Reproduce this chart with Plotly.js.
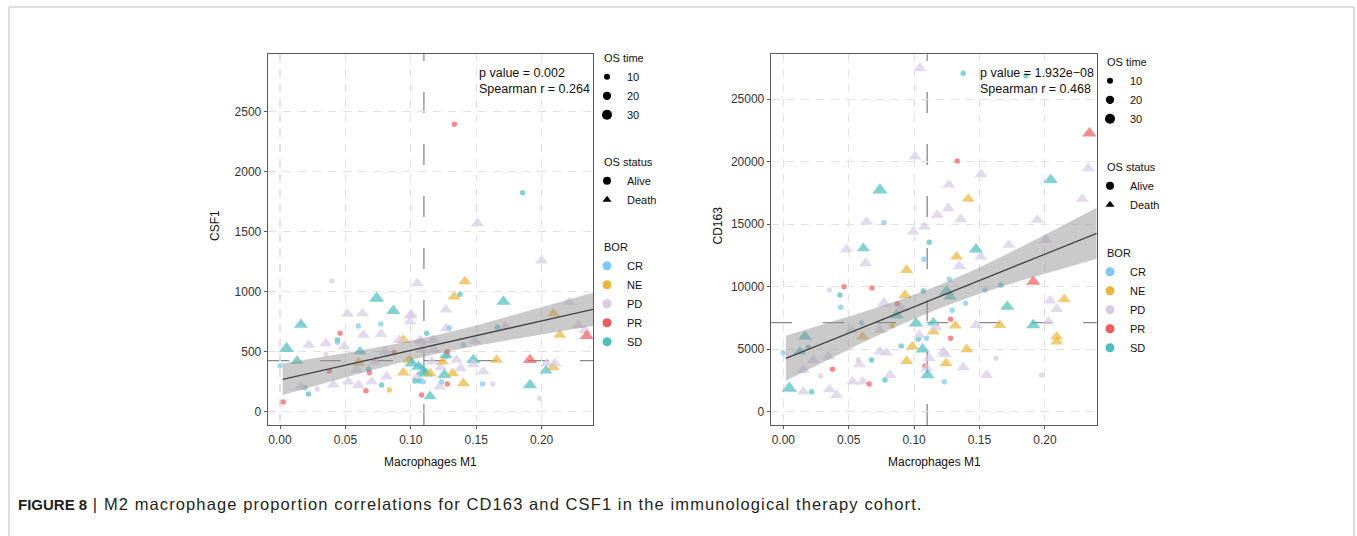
<!DOCTYPE html>
<html>
<head>
<meta charset="utf-8">
<script src="https://cdn.plot.ly/plotly-3.0.1.min.js"></script>
<style>html,body{margin:0;padding:0;background:#fff;}#chart{width:1357px;height:536px;}</style>
</head>
<body>
<div id="chart"></div>
<script>
// ---------- DATA ----------
// Left panel: CSF1 vs Macrophages M1
const csfX = [0.000,0.0025,0.005,0.013,0.016,0.022,0.019,0.0217,0.0285,0.016,0.035,0.035,0.0395,0.0377,0.0438,0.044,0.0459,0.0408,0.049,0.0517,
  0.063,0.0599,0.0612,0.0601,0.0522,0.060,0.0657,0.0678,0.0683,0.0637,0.0739,0.077,0.0772,0.0866,0.0777,0.0815,0.0836,0.0872,0.0943,0.0943,
  0.0986,0.0994,0.0994,0.0912,0.1007,0.105,0.105,0.107,0.1075,0.1032,0.1065,0.1083,0.1096,0.1058,0.1096,0.1115,0.1121,0.1147,0.1147,0.1159,
  0.1172,0.1177,0.1223,0.1228,0.1236,0.1244,0.1256,0.1274,0.1269,0.1269,0.1269,0.1279,0.1279,0.1294,0.132,0.133,0.135,0.1376,0.1381,0.1402,
  0.1414,0.1402,0.1478,0.1478,0.149,0.1547,0.1555,0.1626,0.1656,0.1662,0.1708,0.172,0.1911,0.1911,0.1983,0.200,0.2039,0.2034,0.209,0.209,
  0.2102,0.214,0.221,0.228,0.2332,0.2345,0.1333,0.1855,0.1509,0.0586,0.0726,0.070,0.108,0.080,0.1007,0.1085];
const csfY = [383,80,525,422,725,556,200,147,189,205,569,481,1090,339,597,578,653,225,542,814,
  819,714,500,408,250,222,175,353,325,639,944,731,647,840,222,292,181,494,597,325,
  430,800,750,597,403,292,1069,597,380,256,256,139,250,375,333,319,653,128,319,417,
  597,514,208,370,250,417,306,458,472,850,694,500,231,700,319,958,431,978,361,236,
  1085,556,431,395,590,231,333,231,431,703,917,708,431,222,111,1258,403,342,819,369,
  403,639,912,722,680,631,2395,1825,1570,347,417,250,583,500,806,514];
const csfBor = ['CR','PR','SD','SD','SD','PD','SD','SD','PD','PD','PD','PD','PD','PR','SD','CR','PR','PD','PD','PD',
  'PD','CR','SD','NE','PD','PD','PR','SD','PR','PD','SD','CR','PD','SD','SD','PD','NE','PR','NE','NE',
  'NE','PD','PD','PD','SD','PD','PD','PD','CR','SD','SD','PR','CR','SD','SD','SD','SD','SD','NE','PD',
  'PD','PD','PD','PD','CR','NE','SD','CR','SD','PD','PD','PR','PR','CR','NE','NE','PD','SD','PD','NE',
  'NE','CR','SD','PD','PD','CR','PD','PD','NE','SD','SD','PD','PR','SD','PD','PD','PD','SD','NE','NE',
  'PD','NE','PD','PD','PD','PR','PR','SD','PD','PD','PD','PD','PD','PD','PD','PD'];
const csfStatus = ['Alive','Alive','Death','Death','Death','Death','Alive','Alive','Alive','Death','Death','Alive','Alive','Alive','Alive','Alive','Alive','Death','Death','Death',
  'Death','Alive','Death','Death','Death','Death','Alive','Alive','Alive','Death','Death','Alive','Death','Death','Alive','Death','Alive','Alive','Death','Death',
  'Death','Death','Death','Death','Death','Death','Death','Death','Alive','Alive','Alive','Alive','Alive','Death','Death','Death','Alive','Death','Death','Death',
  'Death','Death','Death','Death','Alive','Death','Death','Alive','Death','Death','Death','Alive','Alive','Alive','Death','Death','Death','Alive','Death','Death',
  'Death','Alive','Death','Death','Death','Alive','Death','Alive','Death','Alive','Death','Death','Death','Death','Alive','Death','Death','Death','Death','Death',
  'Death','Death','Death','Death','Death','Death','Alive','Alive','Death','Death','Death','Death','Death','Death','Death','Death'];
const csfOsTime = [8,8,35,25,30,25,8,8,8,25,25,8,8,8,8,8,8,25,25,25,
  25,8,25,25,25,25,8,8,8,25,35,8,25,30,8,25,8,8,25,25,
  25,25,25,25,30,25,25,25,8,8,8,8,8,30,30,30,8,25,25,25,
  25,25,25,25,8,25,30,8,25,25,25,8,8,8,25,25,25,8,25,25,
  25,8,30,25,25,8,25,8,25,8,30,25,30,30,8,25,25,25,25,25,
  25,25,25,25,25,30,8,8,25,25,25,25,25,25,25,25];

// Right panel: CD163 vs Macrophages M1
const cdX = [0.1376,0.1855,0.1045,0.234,0.1007,0.133,0.1511,0.1267,0.0739,0.1414,0.2044,0.2332,0.2286,0.1261,0.1177,0.1356,0.0637,0.077,0.0994,0.1078,
  0.1942,0.2008,0.0484,0.0612,0.1116,0.1473,0.1725,0.1325,0.1511,0.1075,0.000,0.0046,0.0127,0.0166,0.0191,0.0217,0.0153,0.0153,0.023,0.0285,
  0.0352,0.0344,0.0352,0.0377,0.0408,0.0433,0.0438,0.0464,0.0522,0.053,0.0573,0.0581,0.0599,0.0607,0.0607,0.063,0.0657,0.0678,0.0675,0.0739,
  0.0739,0.077,0.0777,0.079,0.0815,0.0833,0.0872,0.0866,0.0905,0.0902,0.093,0.0943,0.0943,0.0986,0.1014,0.1032,0.104,0.1065,0.107,0.1083,
  0.1096,0.1103,0.1096,0.1116,0.1147,0.1147,0.1165,0.1223,0.1236,0.1231,0.1244,0.1249,0.1269,0.1274,0.1279,0.1279,0.1292,0.1315,0.1346,0.1376,
  0.1394,0.1402,0.1473,0.1542,0.1555,0.1626,0.1656,0.1664,0.1713,0.1911,0.1911,0.1975,0.2026,0.2039,0.209,0.209,0.209,0.2148];
const cdY = [27070,26880,27470,22270,20400,20060,18990,18140,17730,17020,18540,19470,17020,16270,15740,15390,15200,15120,14400,14800,
  15340,13740,12990,13070,13550,12990,13340,12400,12400,12190,4720,1870,4800,6000,5150,1600,1600,3330,4130,2880,
  9730,4400,1790,3390,1330,9330,8350,10000,6530,2400,4130,3790,7120,6000,2400,11870,2210,9890,4130,6530,
  4800,8670,2530,4720,2930,6880,8610,7730,8270,5250,9330,11330,4050,5200,7070,5810,6130,4990,9650,3650,
  3470,2930,5870,4270,6400,7120,6720,4800,4610,2400,3870,9600,10590,9200,7390,5870,8110,6880,11650,3550,
  8670,4990,6930,9730,2930,4270,6930,10130,8400,10400,6930,2930,7200,8880,8210,6000,5600,8990];
const cdBor = ['SD','SD','PD','PR','PD','PR','PD','PD','SD','NE','SD','PD','PD','PD','PD','PD','PD','CR','PD','PD',
  'PD','PD','PD','SD','SD','SD','PD','NE','PD','CR','CR','SD','SD','SD','SD','SD','PD','PD','PD','PD',
  'PD','PD','PD','PR','PD','SD','CR','PR','PD','PD','PD','PD','CR','NE','PD','PD','PR','PR','SD','PD',
  'PD','PD','SD','PD','PD','NE','PR','SD','PD','SD','NE','NE','NE','NE','SD','SD','PD','SD','SD','PR',
  'PD','SD','CR','PD','NE','SD','PD','PD','PD','CR','NE','SD','CR','SD','PR','PR','CR','NE','PD','PD',
  'CR','NE','PD','CR','PD','PD','NE','SD','SD','PR','SD','PD','PD','PD','PD','NE','NE','NE'];
const cdStatus = ['Alive','Alive','Death','Death','Death','Alive','Death','Death','Death','Death','Death','Death','Death','Death','Death','Death','Death','Alive','Death','Death',
  'Death','Death','Death','Death','Alive','Death','Death','Death','Death','Alive','Alive','Death','Death','Death','Alive','Alive','Death','Death','Death','Alive',
  'Alive','Death','Death','Alive','Death','Alive','Alive','Alive','Death','Death','Alive','Death','Alive','Death','Death','Death','Alive','Alive','Alive','Death',
  'Death','Death','Alive','Death','Death','Alive','Alive','Death','Death','Alive','Death','Death','Death','Death','Death','Alive','Death','Death','Alive','Alive',
  'Death','Death','Alive','Death','Death','Death','Death','Death','Death','Alive','Death','Death','Alive','Death','Alive','Alive','Alive','Death','Death','Death',
  'Alive','Death','Death','Alive','Death','Alive','Death','Alive','Death','Death','Death','Alive','Death','Death','Death','Death','Death','Death'];
const cdOsTime = [8,8,25,30,25,8,25,25,35,25,30,25,25,25,25,25,25,8,25,25,
  25,25,25,25,8,30,25,25,25,8,8,35,25,30,8,8,25,25,25,8,
  8,25,25,8,25,8,8,8,25,25,8,25,8,25,25,25,8,8,8,25,
  25,30,8,25,25,8,8,30,25,8,25,25,25,25,30,8,25,30,8,8,
  25,30,8,25,25,25,25,25,25,8,25,35,8,25,8,8,8,25,25,25,
  8,25,25,8,25,8,25,8,30,30,30,8,25,25,25,25,25,25];

// Regression fit (line + 95% band)
const csfFitX   = [0.002,0.03,0.06,0.09,0.12,0.15,0.18,0.21,0.2393];
const csfFit    = [270,339,412,486,560,634,707,781,853];
const csfFitLo  = [138,227,317,404,482,549,607,661,714];
const csfFitHi  = [402,451,507,568,638,719,807,901,992];
const cdFitX    = [0.002,0.03,0.06,0.09,0.12,0.15,0.18,0.21,0.2396];
const cdFit     = [4267,5445,6708,7971,9233,10496,11759,13021,14267];
const cdFitLo   = [2467,3945,5488,6971,8303,9446,10439,11341,12227];
const cdFitHi   = [6067,6945,7928,8971,10163,11546,13079,14701,16307];

// Medians (cross-hair lines)
const csfMedianX = 0.110, csfMedianY = 425;
const cdMedianX = 0.110, cdMedianY = 7120;

const borLevels = ['CR','NE','PD','PR','SD'];
const statusLevels = ['Alive','Death'];
const osTimeBreaks = [10,20,30];
const csfStats = ['p value = 0.002','Spearman r = 0.264'];
const cdStats = ['p value = 1.932e\u221208','Spearman r = 0.468'];

// ---------- STYLE ----------
const borColor = {CR:'#7ec9ec', NE:'#ebb63c', PD:'#d9cae6', PR:'#ef5b5f', SD:'#4dbfbf'};
const statusSymbol = {Alive:'circle', Death:'triangle-up'};
const sizeOf = os => 1.73*Math.sqrt(os)+0.54;
const FONT = 'Liberation Sans, Arial, Helvetica, sans-serif';

function pointTrace(xs, ys, bor, st, os, xa, ya){
  return {
    type:'scatter', mode:'markers', x:xs, y:ys, xaxis:xa, yaxis:ya, showlegend:false, hoverinfo:'skip',
    marker:{
      color: bor.map(b=>borColor[b]),
      symbol: st.map(s=>statusSymbol[s]),
      size: os.map((o,i)=> sizeOf(o)*(st[i]==='Death'?1.25:1)),
      line:{width:0}
    }
  };
}
function bandTraces(fx, lo, hi, fit, xa, ya){
  return [
    {type:'scatter', mode:'lines', x:fx, y:lo, xaxis:xa, yaxis:ya, line:{width:0, color:'rgba(0,0,0,0)'}, showlegend:false, hoverinfo:'skip'},
    {type:'scatter', mode:'lines', x:fx, y:hi, xaxis:xa, yaxis:ya, fill:'tonexty', fillcolor:'rgba(145,145,145,0.48)', line:{width:0, color:'rgba(0,0,0,0)'}, showlegend:false, hoverinfo:'skip'},
    {type:'scatter', mode:'lines', x:fx, y:fit, xaxis:xa, yaxis:ya, line:{width:1.3, color:'#444'}, showlegend:false, hoverinfo:'skip'}
  ];
}
function legendTraces(xa, ya, lgTime, lgStatus, lgBor){
  const t = [];
  osTimeBreaks.forEach(v=>t.push({type:'scatter', mode:'markers', x:[null], y:[null], xaxis:xa, yaxis:ya, name:String(v), legend:lgTime,
    marker:{color:'#000', symbol:'circle', size:sizeOf(v)}, hoverinfo:'skip'}));
  statusLevels.forEach(v=>t.push({type:'scatter', mode:'markers', x:[null], y:[null], xaxis:xa, yaxis:ya, name:v, legend:lgStatus,
    marker:{color:'#000', symbol:statusSymbol[v], size:8}, hoverinfo:'skip'}));
  borLevels.forEach(v=>t.push({type:'scatter', mode:'markers', x:[null], y:[null], xaxis:xa, yaxis:ya, name:v, legend:lgBor,
    marker:{color:borColor[v], symbol:'circle', size:9}, hoverinfo:'skip'}));
  return t;
}

const data = [
  pointTrace(csfX, csfY, csfBor, csfStatus, csfOsTime, 'x', 'y'),
  ...bandTraces(csfFitX, csfFitLo, csfFitHi, csfFit, 'x', 'y'),
  pointTrace(cdX, cdY, cdBor, cdStatus, cdOsTime, 'x2', 'y2'),
  ...bandTraces(cdFitX, cdFitLo, cdFitHi, cdFit, 'x2', 'y2'),
  ...legendTraces('x','y','legend','legend2','legend3'),
  ...legendTraces('x2','y2','legend4','legend5','legend6')
];

const W = 1357, H = 536;
const px = v => v/W, py = v => 1 - v/H;

function xAxis(dom, range, anchor){
  return {domain:dom, range:range, anchor:anchor, tick0:0, dtick:0.05, tickformat:'.2f',
    showgrid:true, gridcolor:'#e2e2e2', gridwidth:1.1, griddash:'8px,7px', zeroline:false,
    showline:true, mirror:true, linecolor:'#5a5a5a', linewidth:1.3,
    ticks:'outside', ticklen:3, tickwidth:1, tickcolor:'#5a5a5a',
    tickfont:{family:FONT, size:12, color:'#333'}, automargin:false, fixedrange:true};
}
function yAxis(dom, range, dtick, anchor){
  return {domain:dom, range:range, anchor:anchor, tick0:0, dtick:dtick, tickformat:'d',
    showgrid:true, gridcolor:'#e2e2e2', gridwidth:1.1, griddash:'8px,7px', zeroline:false,
    showline:true, mirror:true, linecolor:'#5a5a5a', linewidth:1.3,
    ticks:'outside', ticklen:3, tickwidth:1, tickcolor:'#5a5a5a',
    tickfont:{family:FONT, size:12, color:'#333'}, automargin:false, fixedrange:true};
}
const yDom = [py(425), py(54.3)];
function lg(xp, ytop, title){
  return {x:px(xp), y:py(ytop), xanchor:'left', yanchor:'top', bgcolor:'rgba(0,0,0,0)', borderwidth:0,
    indentation:-15, traceorder:'normal', font:{family:FONT, size:11, color:'#111'},
    title:{text:title, font:{family:FONT, size:11, color:'#111'}},
    tracegroupgap:0, itemclick:false, itemdoubleclick:false};
}

const annFont = {family:FONT, size:12.5, color:'#111'};
const medLine = {color:'#8a8a8a', width:1.3, dash:'21px,31px'};
const layout = {
  width:W, height:H, margin:{l:0,r:0,t:0,b:0}, paper_bgcolor:'#fff', plot_bgcolor:'#fff',
  showlegend:true,
  xaxis: xAxis([px(268), px(593)], [-0.0092, 0.2393], 'y'),
  yaxis: yAxis(yDom, [-111, 2978], 500, 'x'),
  xaxis2: xAxis([px(771), px(1096.7)], [-0.0094, 0.2396], 'y2'),
  yaxis2: yAxis(yDom, [-1064, 28592], 5000, 'x2'),
  legend: lg(602, 48, 'OS time'),
  legend2: lg(602, 152, 'OS status'),
  legend3: lg(602, 237, 'BOR'),
  legend4: lg(1105, 52, 'OS time'),
  legend5: lg(1105, 157, 'OS status'),
  legend6: lg(1105, 243, 'BOR'),
  shapes: [
    {type:'rect', xref:'paper', yref:'paper', x0:px(9), x1:px(1354), y0:-0.2, y1:py(7), line:{color:'#bdbdbd', width:1}, fillcolor:'rgba(0,0,0,0)', layer:'below'},
    {type:'line', xref:'x', yref:'y domain', x0:csfMedianX, x1:csfMedianX, y0:0, y1:1, line:medLine, layer:'below'},
    {type:'line', xref:'x domain', yref:'y', x0:0, x1:1, y0:csfMedianY, y1:csfMedianY, line:medLine, layer:'below'},
    {type:'line', xref:'x2', yref:'y2 domain', x0:cdMedianX, x1:cdMedianX, y0:0, y1:1, line:medLine, layer:'below'},
    {type:'line', xref:'x2 domain', yref:'y2', x0:0, x1:1, y0:cdMedianY, y1:cdMedianY, line:medLine, layer:'below'}
  ],
  annotations: [
    {xref:'x domain', yref:'y domain', x:(477-268)/325, y:1-(64-54.3)/370.7, xanchor:'left', yanchor:'top', align:'left', showarrow:false, text:csfStats.join('<br>'), font:annFont},
    {xref:'x2 domain', yref:'y2 domain', x:(978-771)/325.7, y:1-(64-54.3)/370.7, xanchor:'left', yanchor:'top', align:'left', showarrow:false, text:cdStats.join('<br>'), font:annFont},
    {xref:'paper', yref:'paper', x:px(430), y:py(462), xanchor:'center', yanchor:'middle', showarrow:false, text:'Macrophages M1', font:{family:FONT, size:12, color:'#111'}},
    {xref:'paper', yref:'paper', x:px(934), y:py(462), xanchor:'center', yanchor:'middle', showarrow:false, text:'Macrophages M1', font:{family:FONT, size:12, color:'#111'}},
    {xref:'paper', yref:'paper', x:px(215), y:py(226), xanchor:'center', yanchor:'middle', showarrow:false, textangle:-90, text:'CSF1', font:{family:FONT, size:12, color:'#111'}},
    {xref:'paper', yref:'paper', x:px(717.5), y:py(226), xanchor:'center', yanchor:'middle', showarrow:false, textangle:-90, text:'CD163', font:{family:FONT, size:12, color:'#111'}},
    {xref:'paper', yref:'paper', x:px(16), y:py(504), xanchor:'left', yanchor:'middle', showarrow:false,
      text:'<b>FIGURE 8</b><span style="font-size:16.5px;letter-spacing:1.1px"> | M2 macrophage proportion correlations for CD163 and CSF1 in the immunological therapy cohort.</span>',
      font:{family:FONT, size:15, color:'#231f20'}}
  ]
};

Plotly.newPlot('chart', data, layout, {staticPlot:true, displayModeBar:false});
</script>
</body>
</html>
